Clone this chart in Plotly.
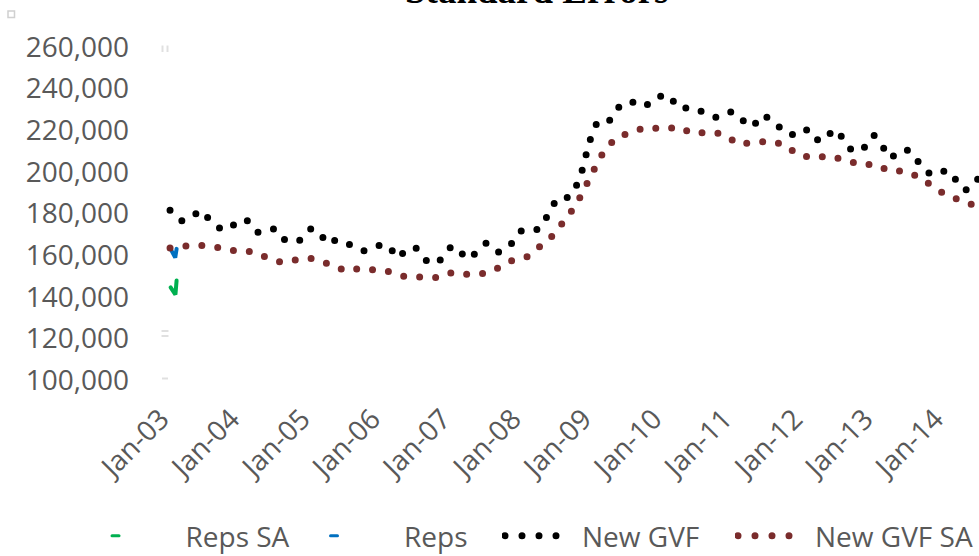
import plotly.graph_objects as go
import pandas as pd

# ---------------- data ----------------
months = pd.date_range("2003-01-01", periods=139, freq="MS")

new_gvf = [
    181.6, 179.1, 176.5, 177.2, 178.5, 181.5, 179.7, 176.0, 174.0, 171.9,
    173.2, 175.2, 176.3, 177.3, 173.2, 171.0, 171.8, 172.7, 172.4, 168.2,
    166.8, 166.7, 166.7, 170.6, 172.6, 172.2, 168.7, 165.3, 167.0, 167.4,
    165.9, 164.6, 163.3, 162.0, 163.2, 164.5, 165.0, 164.9, 162.0, 158.5,
    161.8, 163.8, 163.3, 160.6, 156.1, 156.7, 157.3, 161.5, 164.2, 163.7,
    160.2, 158.0, 161.0, 163.6, 165.9, 163.8, 161.4, 162.6, 164.4, 169.3,
    171.9, 171.7, 171.8, 172.5, 176.9, 183.1, 187.1, 187.4, 187.8, 191.5,
    197.8, 208.7, 219.1, 224.7, 224.9, 224.8, 229.1, 232.7, 233.6, 233.5,
    232.4, 231.4, 233.6, 236.0, 236.5, 237.0, 233.5, 230.3, 230.7, 230.9,
    229.8, 228.7, 227.4, 226.2, 226.9, 228.5, 228.9, 226.7, 224.2, 221.5,
    223.6, 227.4, 226.0, 224.6, 221.3, 218.5, 218.0, 218.0, 220.4, 220.0,
    215.7, 215.0, 215.8, 220.4, 219.1, 215.2, 211.0, 209.6, 210.6, 213.5,
    217.7, 213.9, 209.6, 206.4, 209.4, 210.4, 210.4, 207.0, 203.2, 200.1,
    198.5, 199.7, 200.4, 200.4, 196.1, 192.0, 191.3, 194.4, 197.1,
]
new_gvf_sa = [
    163.4, 163.9, 164.4, 164.8, 164.8, 164.8, 164.6, 164.2, 163.8, 163.1,
    162.4, 161.6, 161.7, 161.8, 161.6, 160.4, 159.2, 158.1, 157.4, 156.5,
    157.1, 157.9, 158.4, 158.4, 158.4, 157.9, 156.9, 155.8, 154.5, 153.1,
    152.4, 153.1, 153.8, 153.7, 153.2, 152.6, 152.4, 152.3, 151.8, 150.8,
    149.8, 149.5, 149.5, 149.5, 149.4, 149.3, 149.3, 150.4, 151.5, 151.5,
    151.0, 150.6, 150.8, 150.9, 151.4, 152.5, 153.6, 155.3, 157.1, 158.4,
    158.9, 159.3, 161.3, 163.4, 165.9, 168.6, 171.9, 175.6, 179.2, 183.1,
    188.3, 194.4, 200.2, 205.2, 209.6, 213.0, 216.2, 217.4, 218.5, 219.6,
    220.4, 221.3, 221.2, 220.8, 220.5, 221.0, 221.6, 221.5, 220.0, 218.5,
    218.6, 219.0, 219.1, 218.7, 218.4, 217.0, 214.6, 213.2, 213.6, 214.0,
    214.2, 214.4, 214.7, 214.3, 213.8, 212.9, 210.5, 208.2, 207.6, 207.0,
    206.7, 207.2, 207.7, 207.3, 206.6, 205.9, 204.9, 203.8, 203.3, 203.5,
    203.7, 202.4, 200.9, 200.2, 200.3, 200.5, 199.6, 198.6, 197.2, 195.1,
    193.0, 191.2, 189.4, 188.2, 187.2, 186.1, 185.1, 183.9, 183.0,
]

reps_dates = ["2003-01-01", "2003-01-28", "2003-02-04"]
reps_vals = [163500, 158800, 163000]
reps_sa_dates = ["2003-01-04", "2003-01-29", "2003-02-04"]
reps_sa_vals = [144500, 141000, 147800]

y_ticks = [100000, 120000, 140000, 160000, 180000, 200000, 220000, 240000, 260000]
series_names = ["Reps SA", "Reps", "New GVF", "New GVF SA"]
title_text = "Standard Errors"

# ---------------- figure ----------------
GREY = "#595959"
W, H = 979, 556
L, R, T, B = 150, 0, 47, 176
pw, ph = W - L - R, H - T - B


def px_x(p):
    return (p - L) / pw


def px_y(p):
    return (H - B - p) / ph


fig = go.Figure()
fig.add_trace(go.Scatter(x=reps_sa_dates, y=reps_sa_vals, name=series_names[0], mode="lines",
                         legend="legend", line=dict(color="#00B050", width=4)))
fig.add_trace(go.Scatter(x=reps_dates, y=reps_vals, name=series_names[1], mode="lines",
                         legend="legend2", line=dict(color="#0070C0", width=4)))
fig.add_trace(go.Scatter(x=months, y=[v * 1000 for v in new_gvf], name=series_names[2], mode="lines",
                         legend="legend3", line=dict(color="#000000", width=7, dash="0px,16px")))
fig.add_trace(go.Scatter(x=months, y=[v * 1000 for v in new_gvf_sa], name=series_names[3], mode="lines",
                         legend="legend4", line=dict(color="#7A2C2C", width=7, dash="0px,16px")))


def legend_at(text_px):
    return dict(orientation="h", xref="container", x=(text_px - 81) / W, xanchor="left",
                yref="container", y=(H - 536) / H, yanchor="middle",
                font=dict(family="Open Sans", size=28, color=GREY), itemwidth=70,
                bgcolor="rgba(0,0,0,0)")


fig.update_layout(
    width=W, height=H,
    margin=dict(l=L, r=R, t=T, b=B, pad=0, autoexpand=False),
    paper_bgcolor="white", plot_bgcolor="white",
    font=dict(family="Open Sans", color=GREY),
    showlegend=True,
    legend=legend_at(186.5), legend2=legend_at(405), legend3=legend_at(583), legend4=legend_at(816),
    hovermode=False,
    xaxis=dict(type="date", range=["2002-09-19", "2014-07-01"], tickmode="linear",
               tick0="2003-01-01", dtick="M12", tickformat="%b-%y", tickangle=-45,
               showgrid=False, zeroline=False, showline=False, ticks="", automargin=False,
               ticklabelstandoff=16, ticklabelshift=-9,
               tickfont=dict(family="Open Sans", size=28, color=GREY)),
    yaxis=dict(range=[100000, 260000], tickmode="array", tickvals=y_ticks,
               tickformat=",d", showgrid=False, zeroline=False, showline=False, ticks="",
               automargin=False, ticklabelstandoff=20,
               tickfont=dict(family="Open Sans", size=28, color=GREY)),
)

fig.add_annotation(text=title_text, xref="paper", yref="paper", x=px_x(536), y=px_y(13),
                   xanchor="center", yanchor="bottom", showarrow=False,
                   font=dict(family="Liberation Serif", size=37, color="#000000", weight="bold"))

# faint decorations
LG = "#D0D0D0"
fig.add_shape(type="rect", xref="paper", yref="paper", x0=px_x(8), x1=px_x(14.5),
              y0=px_y(17.5), y1=px_y(11), line=dict(color=LG, width=1.5), fillcolor="white")
for xx in (162.5, 167.5):
    fig.add_shape(type="line", xref="paper", yref="paper", x0=px_x(xx), x1=px_x(xx),
                  y0=px_y(45.5), y1=px_y(52), line=dict(color="#E0E0E0", width=2))
for yy in (331, 336):
    fig.add_shape(type="line", xref="paper", yref="paper", x0=px_x(161.5), x1=px_x(168.5),
                  y0=px_y(yy), y1=px_y(yy), line=dict(color="#E0E0E0", width=2))
fig.add_shape(type="line", xref="paper", yref="paper", x0=px_x(162), x1=px_x(168),
              y0=px_y(378.5), y1=px_y(378.5), line=dict(color="#E0E0E0", width=2))

post = """
document.documentElement.style.margin = '0';
document.body.style.margin = '0';
document.body.style.padding = '0';
var gd = document.getElementById('{plot_id}');
var st = document.createElement('style');
st.textContent = '.js-line, .legendlines path { stroke-linecap: round !important; }';
document.head.appendChild(st);
var ids = ['legend', 'legend2', 'legend3', 'legend4'];
var ds = ['M6.5,0h7', 'M6.5,0h7', 'M3,0h68', 'M3,0h68'];
var ws = ['3px', '3px', null, null];
var da = [null, null, '0px,17px', '0px,17px'];
ids.forEach(function(id, i) {
  gd.querySelectorAll('g.' + id + ' .legendlines path').forEach(function(p) {
    p.setAttribute('d', ds[i]);
    if (ws[i]) p.style.strokeWidth = ws[i];
    if (da[i]) p.style.strokeDasharray = da[i];
  });
});
"""

fig.write_html("out.html", config={"displayModeBar": False, "staticPlot": True}, post_script=post)
